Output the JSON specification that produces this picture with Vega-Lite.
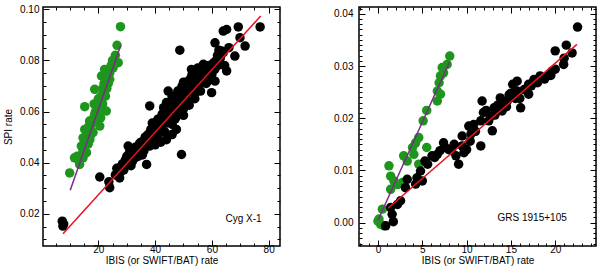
{
  "$schema": "https://vega.github.io/schema/vega-lite/v6.json",
  "padding": {"left": 2, "top": 3, "right": 4, "bottom": 0},
  "bounds": "flush",
  "spacing": 79,
  "config": {
    "view": {"stroke": "black", "strokeWidth": 1.5},
    "font": "Liberation Sans",
    "axis": {"labelFont": "Liberation Sans", "titleFont": "Liberation Sans", "labelFontSize": 10, "titleFontSize": 10, "titleFontWeight": "normal", "labelColor": "#000", "titleColor": "#000", "tickColor": "#000", "grid": false, "domain": false, "labelOverlap": false, "labelFlush": false}
  },
  "datasets": {
    "cyg_green": [
      {"x": 27.8, "y": 0.0932}, {"x": 26.6, "y": 0.0859}, {"x": 27.0, "y": 0.0791}, {"x": 22.2, "y": 0.0765}, {"x": 25.2, "y": 0.0771},
      {"x": 21.1, "y": 0.0739}, {"x": 24.0, "y": 0.0726}, {"x": 18.7, "y": 0.0687}, {"x": 22.2, "y": 0.068}, {"x": 15.2, "y": 0.0619},
      {"x": 19.9, "y": 0.0641}, {"x": 22.8, "y": 0.0602}, {"x": 18.7, "y": 0.0589}, {"x": 16.9, "y": 0.0563}, {"x": 20.5, "y": 0.0543},
      {"x": 15.2, "y": 0.053}, {"x": 18.1, "y": 0.0517}, {"x": 14.6, "y": 0.0497}, {"x": 16.4, "y": 0.0472}, {"x": 14.0, "y": 0.0465},
      {"x": 15.8, "y": 0.0439}, {"x": 11.6, "y": 0.0419}, {"x": 14.6, "y": 0.0419}, {"x": 13.4, "y": 0.0393}, {"x": 9.9, "y": 0.036},
      {"x": 17.0, "y": 0.05}, {"x": 17.5, "y": 0.055}, {"x": 18.0, "y": 0.057}, {"x": 19.0, "y": 0.06}, {"x": 19.5, "y": 0.062},
      {"x": 20.0, "y": 0.065}, {"x": 21.0, "y": 0.066}, {"x": 21.5, "y": 0.069}, {"x": 22.0, "y": 0.071}, {"x": 23.0, "y": 0.074},
      {"x": 24.0, "y": 0.075}, {"x": 25.0, "y": 0.08}, {"x": 26.0, "y": 0.082}, {"x": 16.0, "y": 0.052}, {"x": 15.5, "y": 0.048},
      {"x": 18.5, "y": 0.063}, {"x": 20.5, "y": 0.059}, {"x": 21.5, "y": 0.063}, {"x": 23.0, "y": 0.069}, {"x": 24.5, "y": 0.078},
      {"x": 13.0, "y": 0.041}, {"x": 12.5, "y": 0.0425}, {"x": 19.0, "y": 0.057}, {"x": 20.0, "y": 0.061}, {"x": 22.5, "y": 0.066},
      {"x": 16.5, "y": 0.054}, {"x": 17.0, "y": 0.049}, {"x": 23.5, "y": 0.071}, {"x": 20.8, "y": 0.0575}, {"x": 14.5, "y": 0.044},
      {"x": 18.0, "y": 0.052}, {"x": 26.0, "y": 0.079}
    ],
    "cyg_black": [
      {"x": 26, "y": 0.0352}, {"x": 26.5, "y": 0.0378}, {"x": 27, "y": 0.0365}, {"x": 27.5, "y": 0.034}, {"x": 28, "y": 0.0385},
      {"x": 28.5, "y": 0.0395}, {"x": 29, "y": 0.0372}, {"x": 29.5, "y": 0.041}, {"x": 30, "y": 0.04}, {"x": 30.5, "y": 0.0465},
      {"x": 31, "y": 0.0415}, {"x": 31.5, "y": 0.0388}, {"x": 32, "y": 0.043}, {"x": 32.5, "y": 0.0445}, {"x": 33, "y": 0.042},
      {"x": 33.5, "y": 0.0455}, {"x": 34, "y": 0.044}, {"x": 34.5, "y": 0.0475}, {"x": 35, "y": 0.046}, {"x": 35.5, "y": 0.043},
      {"x": 36, "y": 0.0485}, {"x": 36.5, "y": 0.05}, {"x": 37, "y": 0.0393}, {"x": 37, "y": 0.047}, {"x": 37.5, "y": 0.051},
      {"x": 38, "y": 0.049}, {"x": 38.1, "y": 0.0622}, {"x": 38.5, "y": 0.053}, {"x": 39, "y": 0.0505}, {"x": 39.5, "y": 0.048},
      {"x": 40, "y": 0.054}, {"x": 40.5, "y": 0.052}, {"x": 40.5, "y": 0.056}, {"x": 41, "y": 0.05}, {"x": 41.5, "y": 0.055},
      {"x": 42, "y": 0.0575}, {"x": 42, "y": 0.0535}, {"x": 42.5, "y": 0.059}, {"x": 43, "y": 0.0555}, {"x": 43.5, "y": 0.052},
      {"x": 43.5, "y": 0.06}, {"x": 44, "y": 0.058}, {"x": 44.6, "y": 0.068}, {"x": 44.5, "y": 0.062}, {"x": 45, "y": 0.0565},
      {"x": 45, "y": 0.0605}, {"x": 45.5, "y": 0.064}, {"x": 46, "y": 0.0595}, {"x": 46, "y": 0.055}, {"x": 46.5, "y": 0.0625},
      {"x": 47, "y": 0.066}, {"x": 47, "y": 0.061}, {"x": 47.5, "y": 0.058}, {"x": 48, "y": 0.064}, {"x": 48, "y": 0.068},
      {"x": 48.5, "y": 0.062}, {"x": 48.7, "y": 0.084}, {"x": 49, "y": 0.066}, {"x": 49.3, "y": 0.0432}, {"x": 49.5, "y": 0.07},
      {"x": 50, "y": 0.0645}, {"x": 50, "y": 0.061}, {"x": 50.5, "y": 0.069}, {"x": 51, "y": 0.067}, {"x": 51, "y": 0.0715},
      {"x": 51.5, "y": 0.064}, {"x": 52, "y": 0.07}, {"x": 52.5, "y": 0.073}, {"x": 52.8, "y": 0.0765}, {"x": 53, "y": 0.068},
      {"x": 53.5, "y": 0.072}, {"x": 54, "y": 0.07}, {"x": 54.5, "y": 0.0745}, {"x": 55, "y": 0.0725}, {"x": 55, "y": 0.077},
      {"x": 55.5, "y": 0.0705}, {"x": 56, "y": 0.075}, {"x": 56.5, "y": 0.073}, {"x": 57, "y": 0.076}, {"x": 57.5, "y": 0.074},
      {"x": 58, "y": 0.0775}, {"x": 58.5, "y": 0.072}, {"x": 59, "y": 0.076}, {"x": 59.9, "y": 0.0674}, {"x": 60, "y": 0.0745},
      {"x": 60.5, "y": 0.079}, {"x": 61.1, "y": 0.0719}, {"x": 61.1, "y": 0.0869}, {"x": 61.5, "y": 0.08}, {"x": 62, "y": 0.078},
      {"x": 62.5, "y": 0.084}, {"x": 63, "y": 0.081}, {"x": 63.4, "y": 0.0837}, {"x": 64, "y": 0.0915}, {"x": 64, "y": 0.083},
      {"x": 64.5, "y": 0.078}, {"x": 65.2, "y": 0.0921}, {"x": 65.2, "y": 0.0759}, {"x": 66, "y": 0.085}, {"x": 68.1, "y": 0.0817},
      {"x": 69.3, "y": 0.0931}, {"x": 69.9, "y": 0.0889}, {"x": 71.7, "y": 0.0856}, {"x": 77, "y": 0.0931}, {"x": 20.5, "y": 0.0344},
      {"x": 24, "y": 0.0302}, {"x": 23.7, "y": 0.0325}, {"x": 7.3, "y": 0.0171}, {"x": 7.5, "y": 0.0152}, {"x": 7.8, "y": 0.016},
      {"x": 44, "y": 0.049}, {"x": 46, "y": 0.051}, {"x": 47.5, "y": 0.053}, {"x": 42, "y": 0.048}, {"x": 40, "y": 0.047},
      {"x": 33, "y": 0.046}, {"x": 34, "y": 0.0465}, {"x": 35, "y": 0.048}, {"x": 36, "y": 0.0465}, {"x": 37, "y": 0.0495},
      {"x": 38, "y": 0.0515}, {"x": 39, "y": 0.053}, {"x": 39, "y": 0.0555}, {"x": 40, "y": 0.0505}, {"x": 41, "y": 0.0535},
      {"x": 41, "y": 0.057}, {"x": 42, "y": 0.056}, {"x": 43, "y": 0.058}, {"x": 43, "y": 0.0615}, {"x": 44, "y": 0.0555},
      {"x": 44, "y": 0.0635}, {"x": 45, "y": 0.0585}, {"x": 45, "y": 0.0625}, {"x": 46, "y": 0.0615}, {"x": 46, "y": 0.066},
      {"x": 47, "y": 0.0635}, {"x": 47, "y": 0.057}, {"x": 48, "y": 0.059}, {"x": 48, "y": 0.066}, {"x": 49, "y": 0.0635},
      {"x": 49, "y": 0.0685}, {"x": 50, "y": 0.0665}, {"x": 50, "y": 0.0715}, {"x": 51, "y": 0.0645}, {"x": 51, "y": 0.069},
      {"x": 52, "y": 0.0675}, {"x": 52, "y": 0.072}, {"x": 53, "y": 0.0705}, {"x": 53, "y": 0.0745}, {"x": 54, "y": 0.0725},
      {"x": 54, "y": 0.067}, {"x": 55, "y": 0.0745}, {"x": 56, "y": 0.0725}, {"x": 56, "y": 0.077}, {"x": 57, "y": 0.0735},
      {"x": 57, "y": 0.0785}, {"x": 58, "y": 0.0755}, {"x": 59, "y": 0.078}, {"x": 59, "y": 0.0735}, {"x": 60, "y": 0.0775},
      {"x": 61, "y": 0.0765}, {"x": 62, "y": 0.082}, {"x": 63, "y": 0.0785}, {"x": 36, "y": 0.0445}, {"x": 34, "y": 0.0425},
      {"x": 32, "y": 0.0405}, {"x": 30, "y": 0.0425}, {"x": 28, "y": 0.0365}, {"x": 31, "y": 0.044}, {"x": 38, "y": 0.0465},
      {"x": 50, "y": 0.0585}, {"x": 52, "y": 0.0625}, {"x": 54, "y": 0.065}, {"x": 56, "y": 0.068}, {"x": 58, "y": 0.071}
    ],
    "cyg_fit_green": [{"x": 10.1, "y": 0.0292}, {"x": 27.8, "y": 0.0856}],
    "cyg_fit_black": [{"x": 7.55, "y": 0.0122}, {"x": 77.2, "y": 0.0974}],
    "cyg_label": [{"x": 77.5, "y": 0.0179, "label": "Cyg X-1"}],
    "grs_green": [
      {"x": 8.1, "y": 0.0319}, {"x": 7.8, "y": 0.0303}, {"x": 7.25, "y": 0.0297}, {"x": 7.4, "y": 0.0287}, {"x": 7.05, "y": 0.0281},
      {"x": 6.9, "y": 0.0268}, {"x": 6.7, "y": 0.0252}, {"x": 7.05, "y": 0.0246}, {"x": 6.7, "y": 0.0233}, {"x": 5.5, "y": 0.0215},
      {"x": 5.1, "y": 0.0195}, {"x": 4.6, "y": 0.0163}, {"x": 4.25, "y": 0.0153}, {"x": 5.5, "y": 0.0144}, {"x": 3.9, "y": 0.0144},
      {"x": 4.05, "y": 0.0131}, {"x": 2.9, "y": 0.0128}, {"x": 3.3, "y": 0.0118}, {"x": 4.6, "y": 0.0112}, {"x": 1.24, "y": 0.0109},
      {"x": 1.43, "y": 0.0089}, {"x": 1.8, "y": 0.008}, {"x": 2.2, "y": 0.0073}, {"x": 1.43, "y": 0.0064}, {"x": 2.75, "y": 0.0077},
      {"x": 0.5, "y": 0.0026}, {"x": 0.11, "y": 0.0007}, {"x": 0.3, "y": -0.0003}, {"x": 0.68, "y": -0.0006}, {"x": 0.0, "y": 0.0003}
    ],
    "grs_black": [
      {"x": 22.52, "y": 0.03745}, {"x": 21.25, "y": 0.034}, {"x": 21.9, "y": 0.0325}, {"x": 20.95, "y": 0.0303}, {"x": 20.0, "y": 0.0329},
      {"x": 20.0, "y": 0.0294}, {"x": 19.1, "y": 0.0281}, {"x": 18.3, "y": 0.0281}, {"x": 17.6, "y": 0.0274}, {"x": 17.0, "y": 0.0265},
      {"x": 17.0, "y": 0.0246}, {"x": 15.7, "y": 0.0271}, {"x": 15.7, "y": 0.0252}, {"x": 16.1, "y": 0.022}, {"x": 14.6, "y": 0.0233},
      {"x": 13.8, "y": 0.0239}, {"x": 14.0, "y": 0.0214}, {"x": 13.1, "y": 0.022}, {"x": 12.7, "y": 0.0204}, {"x": 12.9, "y": 0.0176},
      {"x": 11.75, "y": 0.0233}, {"x": 11.9, "y": 0.0211}, {"x": 11.6, "y": 0.0195}, {"x": 10.8, "y": 0.0188}, {"x": 10.25, "y": 0.0185},
      {"x": 11.6, "y": 0.0147}, {"x": 10.4, "y": 0.0156}, {"x": 9.5, "y": 0.0166}, {"x": 9.5, "y": 0.0147}, {"x": 9.7, "y": 0.0134},
      {"x": 9.1, "y": 0.0112}, {"x": 8.6, "y": 0.015}, {"x": 7.4, "y": 0.0153}, {"x": 7.6, "y": 0.0144}, {"x": 6.7, "y": 0.0131},
      {"x": 6.1, "y": 0.0128}, {"x": 6.4, "y": 0.0125}, {"x": 5.6, "y": 0.0112}, {"x": 4.8, "y": 0.0099}, {"x": 4.4, "y": 0.0086},
      {"x": 5.0, "y": 0.008}, {"x": 4.25, "y": 0.0074}, {"x": 3.3, "y": 0.0083}, {"x": 3.1, "y": 0.0067}, {"x": 2.55, "y": 0.0042},
      {"x": 2.2, "y": 0.0035}, {"x": 1.43, "y": 0.0029}, {"x": 1.6, "y": 0.0016}, {"x": 1.73, "y": 0.0002}, {"x": 0.87, "y": -0.0006},
      {"x": 15.2, "y": 0.0265}, {"x": 14.8, "y": 0.0245}, {"x": 15.5, "y": 0.0238}, {"x": 13.5, "y": 0.0225}, {"x": 12.2, "y": 0.0215},
      {"x": 16.5, "y": 0.0255}, {"x": 18.8, "y": 0.0275}, {"x": 19.6, "y": 0.029}, {"x": 21.0, "y": 0.0315}, {"x": 17.3, "y": 0.0262},
      {"x": 14.2, "y": 0.0229}, {"x": 13.2, "y": 0.0206}, {"x": 8.0, "y": 0.014}, {"x": 8.8, "y": 0.0128}, {"x": 10.0, "y": 0.014},
      {"x": 5.3, "y": 0.0118}, {"x": 12.5, "y": 0.0195}, {"x": 13.5, "y": 0.0215}, {"x": 14.5, "y": 0.0222}, {"x": 15.0, "y": 0.0248},
      {"x": 16.0, "y": 0.0238}, {"x": 16.8, "y": 0.0255}, {"x": 18.0, "y": 0.0268}, {"x": 19.5, "y": 0.0282}, {"x": 10.5, "y": 0.017},
      {"x": 11.0, "y": 0.0175}, {"x": 7.0, "y": 0.0138}, {"x": 8.3, "y": 0.0138}
    ],
    "grs_fit_green": [{"x": 0.0, "y": 0.00046}, {"x": 8.07, "y": 0.03076}],
    "grs_fit_black": [{"x": 1.13, "y": 0.00276}, {"x": 22.45, "y": 0.03414}],
    "grs_label": [{"x": 21.3, "y": 0.00096, "label": "GRS 1915+105"}]
  },
  "hconcat": [
    {
      "width": 237,
      "height": 239,
      "resolve": {"axis": {"x": "independent", "y": "independent"}},
      "layer": [
        {
          "data": {"name": "cyg_green"},
          "mark": {"type": "circle", "size": 90, "opacity": 1, "color": "#1e961e"},
          "encoding": {
            "x": {"field": "x", "type": "quantitative", "scale": {"domain": [0.5, 84], "nice": false, "zero": false},
                  "axis": {"orient": "bottom", "values": [20, 40, 60, 80], "ticks": false, "labelPadding": -2, "title": "IBIS (or SWIFT/BAT) rate", "titlePadding": 1}},
            "y": {"field": "y", "type": "quantitative", "scale": {"domain": [0.0074, 0.1009], "nice": false, "zero": false},
                  "axis": {"orient": "left", "values": [0.02, 0.04, 0.06, 0.08, 0.1], "format": ".2f", "ticks": false, "labelPadding": 4, "title": "SPI rate", "titlePadding": 6}}
          }
        },
        {
          "data": {"name": "cyg_black"},
          "mark": {"type": "circle", "size": 90, "opacity": 1, "color": "#000000"},
          "encoding": {
            "x": {"field": "x", "type": "quantitative", "axis": {"orient": "bottom", "values": [20, 40, 60, 80], "labels": false, "tickSize": -6, "title": null}},
            "y": {"field": "y", "type": "quantitative", "axis": {"orient": "left", "values": [0.02, 0.04, 0.06, 0.08, 0.1], "labels": false, "tickSize": -6, "title": null}}
          }
        },
        {
          "data": {"name": "cyg_fit_green"},
          "mark": {"type": "line", "color": "#7a2a8a", "strokeWidth": 1.5},
          "encoding": {
            "x": {"field": "x", "type": "quantitative", "axis": {"orient": "bottom", "values": [5, 10, 15, 25, 30, 35, 45, 50, 55, 65, 70, 75], "labels": false, "tickSize": -3, "title": null}},
            "y": {"field": "y", "type": "quantitative", "axis": {"orient": "left", "values": [0.01, 0.015, 0.025, 0.03, 0.035, 0.045, 0.05, 0.055, 0.065, 0.07, 0.075, 0.085, 0.09, 0.095], "labels": false, "tickSize": -3, "title": null}}
          }
        },
        {
          "data": {"name": "cyg_fit_black"},
          "mark": {"type": "line", "color": "#e8141c", "strokeWidth": 1.5},
          "encoding": {
            "x": {"field": "x", "type": "quantitative", "axis": {"orient": "top", "values": [20, 40, 60, 80], "labels": false, "tickSize": -6, "title": null}},
            "y": {"field": "y", "type": "quantitative", "axis": {"orient": "right", "values": [0.02, 0.04, 0.06, 0.08, 0.1], "labels": false, "tickSize": -6, "title": null}}
          }
        },
        {
          "data": {"name": "cyg_label"},
          "mark": {"type": "text", "align": "right", "baseline": "middle", "fontSize": 10, "font": "Liberation Sans", "color": "#000"},
          "encoding": {
            "text": {"field": "label"},
            "x": {"field": "x", "type": "quantitative", "axis": {"orient": "top", "values": [5, 10, 15, 25, 30, 35, 45, 50, 55, 65, 70, 75], "labels": false, "tickSize": -3, "title": null}},
            "y": {"field": "y", "type": "quantitative", "axis": {"orient": "right", "values": [0.01, 0.015, 0.025, 0.03, 0.035, 0.045, 0.05, 0.055, 0.065, 0.07, 0.075, 0.085, 0.09, 0.095], "labels": false, "tickSize": -3, "title": null}}
          }
        }
      ]
    },
    {
      "width": 237,
      "height": 239,
      "resolve": {"axis": {"x": "independent", "y": "independent"}},
      "layer": [
        {
          "data": {"name": "grs_green"},
          "mark": {"type": "circle", "size": 90, "opacity": 1, "color": "#1e961e"},
          "encoding": {
            "x": {"field": "x", "type": "quantitative", "scale": {"domain": [-2.14, 24.6], "nice": false, "zero": false},
                  "axis": {"orient": "bottom", "values": [0, 5, 10, 15, 20], "ticks": false, "labelPadding": -2, "title": "IBIS (or SWIFT/BAT) rate", "titlePadding": 1}},
            "y": {"field": "y", "type": "quantitative", "scale": {"domain": [-0.00446, 0.0413], "nice": false, "zero": false},
                  "axis": {"orient": "left", "values": [0, 0.01, 0.02, 0.03, 0.04], "format": ".2f", "ticks": false, "labelPadding": 6, "title": null}}
          }
        },
        {
          "data": {"name": "grs_black"},
          "mark": {"type": "circle", "size": 90, "opacity": 1, "color": "#000000"},
          "encoding": {
            "x": {"field": "x", "type": "quantitative", "axis": {"orient": "bottom", "values": [0, 5, 10, 15, 20], "labels": false, "tickSize": -6, "title": null}},
            "y": {"field": "y", "type": "quantitative", "axis": {"orient": "left", "values": [0, 0.01, 0.02, 0.03, 0.04], "labels": false, "tickSize": -6, "title": null}}
          }
        },
        {
          "data": {"name": "grs_fit_green"},
          "mark": {"type": "line", "color": "#7a2a8a", "strokeWidth": 1.5},
          "encoding": {
            "x": {"field": "x", "type": "quantitative", "axis": {"orient": "bottom", "values": [-2, -1, 1, 2, 3, 4, 6, 7, 8, 9, 11, 12, 13, 14, 16, 17, 18, 19, 21, 22, 23, 24], "labels": false, "tickSize": -3, "title": null}},
            "y": {"field": "y", "type": "quantitative", "axis": {"orient": "left", "values": [-0.004, -0.003, -0.002, -0.001, 0.001, 0.002, 0.003, 0.004, 0.005, 0.006, 0.007, 0.008, 0.009, 0.011, 0.012, 0.013, 0.014, 0.015, 0.016, 0.017, 0.018, 0.019, 0.021, 0.022, 0.023, 0.024, 0.025, 0.026, 0.027, 0.028, 0.029, 0.031, 0.032, 0.033, 0.034, 0.035, 0.036, 0.037, 0.038, 0.039, 0.041], "labels": false, "tickSize": -3, "title": null}}
          }
        },
        {
          "data": {"name": "grs_fit_black"},
          "mark": {"type": "line", "color": "#e8141c", "strokeWidth": 1.5},
          "encoding": {
            "x": {"field": "x", "type": "quantitative", "axis": {"orient": "top", "values": [0, 5, 10, 15, 20], "labels": false, "tickSize": -6, "title": null}},
            "y": {"field": "y", "type": "quantitative", "axis": {"orient": "right", "values": [0, 0.01, 0.02, 0.03, 0.04], "labels": false, "tickSize": -6, "title": null}}
          }
        },
        {
          "data": {"name": "grs_label"},
          "mark": {"type": "text", "align": "right", "baseline": "middle", "fontSize": 10, "font": "Liberation Sans", "color": "#000"},
          "encoding": {
            "text": {"field": "label"},
            "x": {"field": "x", "type": "quantitative", "axis": {"orient": "top", "values": [-2, -1, 1, 2, 3, 4, 6, 7, 8, 9, 11, 12, 13, 14, 16, 17, 18, 19, 21, 22, 23, 24], "labels": false, "tickSize": -3, "title": null}},
            "y": {"field": "y", "type": "quantitative", "axis": {"orient": "right", "values": [-0.004, -0.003, -0.002, -0.001, 0.001, 0.002, 0.003, 0.004, 0.005, 0.006, 0.007, 0.008, 0.009, 0.011, 0.012, 0.013, 0.014, 0.015, 0.016, 0.017, 0.018, 0.019, 0.021, 0.022, 0.023, 0.024, 0.025, 0.026, 0.027, 0.028, 0.029, 0.031, 0.032, 0.033, 0.034, 0.035, 0.036, 0.037, 0.038, 0.039, 0.041], "labels": false, "tickSize": -3, "title": null}}
          }
        }
      ]
    }
  ]
}
